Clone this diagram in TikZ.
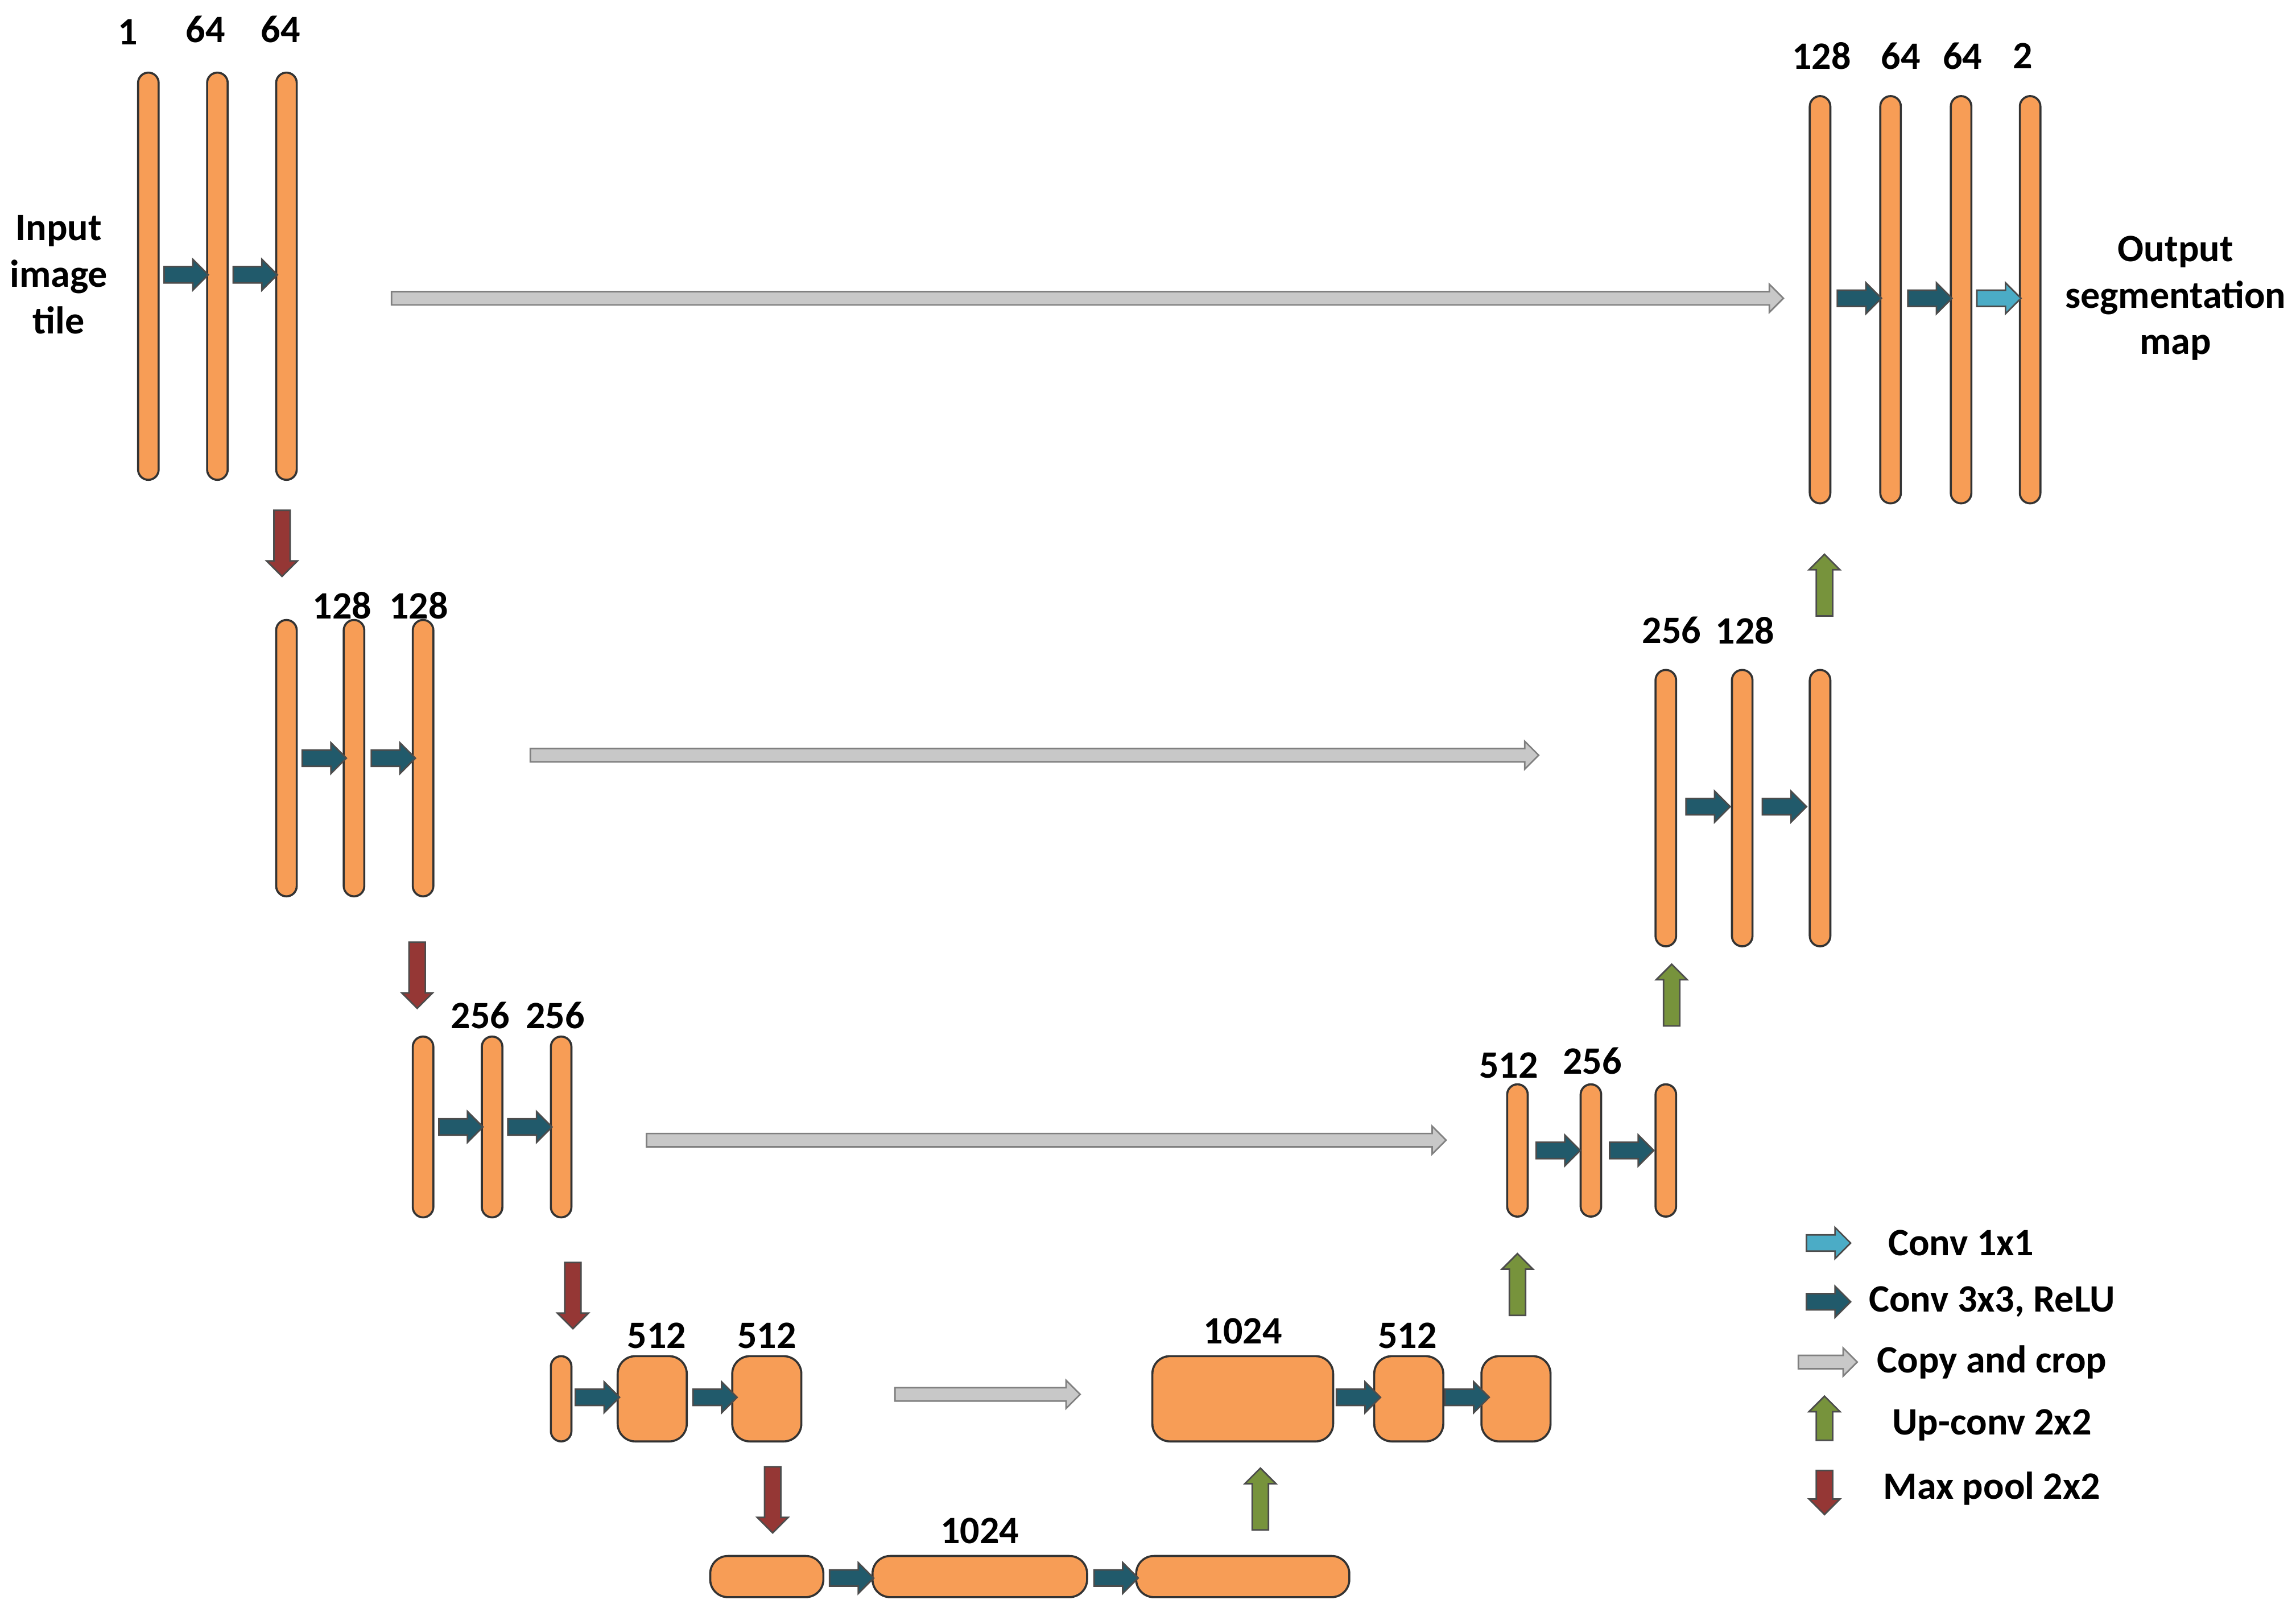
\documentclass[tikz,border=0pt]{standalone}
\usepackage{fontspec}
\setmainfont{Carlito}
\usetikzlibrary{shapes.arrows}
\usetikzlibrary{positioning}
\definecolor{blkfill}{HTML}{F79D56}
\definecolor{convcol}{HTML}{215A6B}
\definecolor{onecol}{HTML}{4BACC6}
\definecolor{copycol}{HTML}{C8C8C8}
\definecolor{upcol}{HTML}{77933C}
\definecolor{poolcol}{HTML}{953735}
\tikzset{
  blk/.style={draw=black!80, line width=0.4pt, fill=blkfill, inner sep=0pt},
  bar/.style={blk, minimum width=0.14cm, rounded corners=0.07cm},
  box/.style={blk, minimum height=0.58cm, rounded corners=0.12cm},
  arr/.style={single arrow, draw=black!70, line width=0.3pt, inner sep=0.05cm,
    single arrow head extend=0.05cm, minimum height=0.3cm, anchor=center},
  conv/.style={arr, fill=convcol},
  one/.style={arr, fill=onecol},
  copy/.style={arr, fill=copycol, draw=black!50, inner sep=0.04cm},
  up/.style={arr, fill=upcol, rotate=90, minimum height=0.42cm},
  pool/.style={arr, fill=poolcol, rotate=-90, minimum height=0.45cm},
  lbl/.style={font=\fontsize{7.5}{9}\selectfont\bfseries, inner sep=0pt},
}
\begin{document}
\begin{tikzpicture}[x=0.01cm, y=-0.01cm]
  \useasboundingbox (0,0) rectangle (1563,1097);

  % Contracting path, level 1
  \node[bar, minimum height=2.77cm] (l1a) at (101,188) {};
  \node[bar, minimum height=2.77cm] (l1b) at (148,188) {};
  \node[bar, minimum height=2.77cm] (l1c) at (195,188) {};
  \node[conv] (c1a) at (124,187) {};
  \node[conv] (c1b) at (171,187) {};
  \node[lbl] (t1a) at (87,22) {1};
  \node[lbl] (t1b) at (140,20) {64};
  \node[lbl] (t1c) at (191,20) {64};
  \node[lbl, align=center] (in) at (40,187) {Input\\image\\tile};
  \node[pool] (p1) at (192,367) {};

  % level 2
  \node[bar, minimum height=1.88cm] (l2a) at (195,516) {};
  \node[bar, minimum height=1.88cm] (l2b) at (241,516) {};
  \node[bar, minimum height=1.88cm] (l2c) at (288,516) {};
  \node[conv] (c2a) at (218,516) {};
  \node[conv] (c2b) at (265,516) {};
  \node[lbl] (t2a) at (233,412) {128};
  \node[lbl] (t2b) at (285,412) {128};
  \node[pool] (p2) at (284,661) {};

  % level 3
  \node[bar, minimum height=1.23cm] (l3a) at (288,767) {};
  \node[bar, minimum height=1.23cm] (l3b) at (335,767) {};
  \node[bar, minimum height=1.23cm] (l3c) at (382,767) {};
  \node[conv] (c3a) at (311,767) {};
  \node[conv] (c3b) at (358,767) {};
  \node[lbl] (t3a) at (327,691) {256};
  \node[lbl] (t3b) at (378,691) {256};
  \node[pool] (p3) at (390,879) {};

  % level 4
  \node[bar, minimum height=0.58cm] (l4a) at (382,952) {};
  \node[box, minimum width=0.47cm] (l4b) at (444,952) {};
  \node[box, minimum width=0.47cm] (l4c) at (522,952) {};
  \node[conv] (c4a) at (404,951) {};
  \node[conv] (c4b) at (484,951) {};
  \node[lbl] (t4a) at (447,909) {512};
  \node[lbl] (t4b) at (522,909) {512};
  \node[pool] (p4) at (526,1018) {};

  % bottom
  \node[box, minimum width=0.77cm, minimum height=0.28cm] (l5a) at (522,1073) {};
  \node[box, minimum width=1.46cm, minimum height=0.28cm] (l5b) at (667,1073) {};
  \node[box, minimum width=1.45cm, minimum height=0.28cm] (l5c) at (846,1073) {};
  \node[conv] (c5a) at (577,1074) {};
  \node[conv] (c5b) at (757,1074) {};
  \node[lbl] (t5) at (667,1042) {1024};
  \node[up] (u5) at (858,1023) {};

  % Expanding path, level 4
  \node[box, minimum width=1.23cm] (r4a) at (846,952) {};
  \node[box, minimum width=0.47cm] (r4b) at (959,952) {};
  \node[box, minimum width=0.47cm] (r4c) at (1032,952) {};
  \node[conv] (d4a) at (922,951) {};
  \node[conv] (d4b) at (996,951) {};
  \node[lbl] (s4a) at (846,906) {1024};
  \node[lbl] (s4b) at (958,909) {512};
  \node[up] (u4) at (1033,877) {};

  % level 3
  \node[bar, minimum height=0.90cm] (r3a) at (1033,783) {};
  \node[bar, minimum height=0.90cm] (r3b) at (1083,783) {};
  \node[bar, minimum height=0.90cm] (r3c) at (1134,783) {};
  \node[conv] (d3a) at (1058,783) {};
  \node[conv] (d3b) at (1108,783) {};
  \node[lbl] (s3a) at (1027,725) {512};
  \node[lbl] (s3b) at (1084,722) {256};
  \node[up] (u3) at (1138,680) {};

  % level 2
  \node[bar, minimum height=1.88cm] (r2a) at (1134,550) {};
  \node[bar, minimum height=1.88cm] (r2b) at (1186,550) {};
  \node[bar, minimum height=1.88cm] (r2c) at (1239,550) {};
  \node[conv] (d2a) at (1160,549) {};
  \node[conv] (d2b) at (1212,549) {};
  \node[lbl] (s2a) at (1138,429) {256};
  \node[lbl] (s2b) at (1188,429) {128};
  \node[up] (u2) at (1242,401) {};

  % level 1
  \node[bar, minimum height=2.77cm] (r1a) at (1239,204) {};
  \node[bar, minimum height=2.77cm] (r1b) at (1287,204) {};
  \node[bar, minimum height=2.77cm] (r1c) at (1335,204) {};
  \node[bar, minimum height=2.77cm] (r1d) at (1382,204) {};
  \node[conv] (d1a) at (1263,203) {};
  \node[conv] (d1b) at (1311,203) {};
  \node[one] (d1c) at (1358,203) {};
  \node[lbl] (s1a) at (1240,38) {128};
  \node[lbl] (s1b) at (1294,38) {64};
  \node[lbl] (s1c) at (1336,38) {64};
  \node[lbl] (s1d) at (1377,38) {2};
  \node[lbl, align=center] (out) at (1481,203) {Output\\segmentation\\map};

  % Copy and crop
  \node[copy, minimum height=9.47cm] (k1) at (738,203) {};
  \node[copy, minimum height=6.86cm] (k2) at (702,514) {};
  \node[copy, minimum height=5.44cm] (k3) at (710,776) {};
  \node[copy, minimum height=1.26cm] (k4) at (670,949) {};

  % Legend
  \node[one] (g1) at (1242,846) {};
  \node[conv] (g2) at (1242,886) {};
  \node[copy, minimum height=0.4cm] (g3) at (1242,927) {};
  \node[up, minimum height=0.3cm] (g4) at (1242,968) {};
  \node[pool, minimum height=0.3cm] (g5) at (1242,1013) {};
  \node[lbl] (h1) at (1335,846) {Conv 1x1};
  \node[lbl] (h2) at (1356,886) {Conv 3x3, ReLU};
  \node[lbl] (h3) at (1356,927) {Copy and crop};
  \node[lbl] (h4) at (1356,970) {Up-conv 2x2};
  \node[lbl] (h5) at (1356,1013) {Max pool 2x2};
\end{tikzpicture}
\end{document}
